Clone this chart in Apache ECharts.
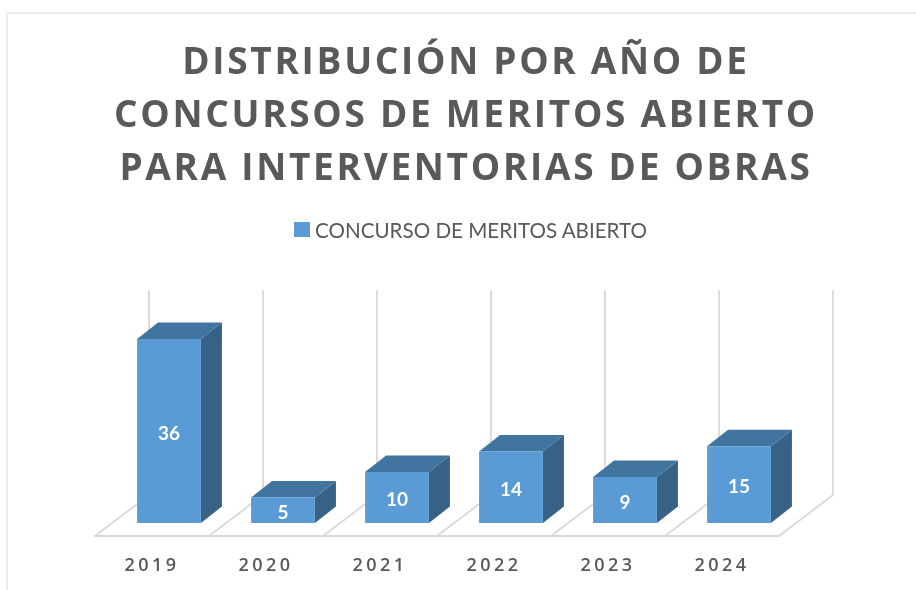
<!DOCTYPE html>
<html>
<head>
<meta charset="utf-8">
<style>
html,body{margin:0;padding:0;background:#fff;}
#chart{width:916px;height:590px;filter:blur(0.6px);}
</style>
<script src="https://cdn.jsdelivr.net/npm/echarts@6/dist/echarts.min.js"></script>
</head>
<body>
<div id="chart"></div>
<script>
const titleLines = ['DISTRIBUCIÓN POR AÑO DE','CONCURSOS DE MERITOS ABIERTO','PARA INTERVENTORIAS DE OBRAS'];
const seriesName = 'CONCURSO DE MERITOS ABIERTO';
const categories = ['2019','2020','2021','2022','2023','2024'];
const values = [36,5,10,14,9,15];
const axisMax = 40;

const floorDepth = [54,-41];
const barOffset = [17,-13];
const barDepth = [21,-16.5];
const barWidthRatio = 0.56;
const FRONT='#5B9BD5', TOP='#4274A0', SIDE='#376285', WALL='#D9D9D9';

const chart = echarts.init(document.getElementById('chart'),null,{renderer:'svg',width:916,height:590});

function wallItem(params,api){
  const i = api.value(0);
  const c0 = api.coord([i,0]);
  const cTop = api.coord([i,axisMax]);
  const bw = api.size([1,0])[0];
  const lines = [c0[0]-bw/2];
  if(i===categories.length-1) lines.push(c0[0]+bw/2);
  return {type:'group',children:lines.map(x=>({
    type:'polyline',
    shape:{points:[[x,c0[1]],[x+floorDepth[0],c0[1]+floorDepth[1]],[x+floorDepth[0],cTop[1]+floorDepth[1]]]},
    style:{stroke:WALL,lineWidth:1.8,fill:null}
  }))};
}

function barItem(params,api){
  const i = api.value(0), v = api.value(1);
  const base = api.coord([i,0]);
  const top = api.coord([i,v]);
  const w = api.size([1,0])[0]*barWidthRatio;
  const x0 = base[0]+barOffset[0]-w/2, x1 = x0+w;
  const yb = base[1]+barOffset[1], yt = top[1]+barOffset[1];
  const dx = barDepth[0], dy = barDepth[1];
  return {type:'group',children:[
    {type:'polygon',shape:{points:[[x1,yb],[x1+dx,yb+dy],[x1+dx,yt+dy],[x1,yt]]},style:{fill:SIDE}},
    {type:'polygon',shape:{points:[[x0,yt],[x1,yt],[x1+dx,yt+dy],[x0+dx,yt+dy]]},style:{fill:TOP}},
    {type:'rect',shape:{x:x0,y:yt,width:w,height:yb-yt},style:{fill:FRONT}},
    {type:'text',style:{text:String(v),x:(x0+x1)/2,y:(yt+yb)/2+1,align:'center',verticalAlign:'middle',
      fill:'#FFFFFF',font:'bold 19px Lato'}}
  ]};
}

chart.setOption({
  animation:false,
  backgroundColor:'#fff',
  title:{
    text:titleLines.join('\n'),
    left:461,top:28,textAlign:'center',
    textStyle:{fontFamily:'Open Sans',fontWeight:'bold',fontSize:37,lineHeight:53,color:'#595959'}
  },
  legend:{
    left:289,top:214,itemWidth:16,itemHeight:15,
    data:[{name:seriesName,icon:'rect'}],
    textStyle:{fontFamily:'Lato',fontSize:20.6,color:'#595959'}
  },
  grid:{left:95,width:684,top:331.6,height:204.4},
  xAxis:{
    type:'category',data:categories,
    axisLine:{show:true,lineStyle:{color:WALL,width:1.8}},
    axisTick:{show:false},splitLine:{show:false},
    axisLabel:{margin:19,fontFamily:'Open Sans',fontWeight:600,fontSize:18,color:'#595959'}
  },
  yAxis:{type:'value',min:0,max:axisMax,interval:10,show:false,splitLine:{show:false}},
  graphic:[
    {type:'polyline',silent:true,z:-1,shape:{points:[[7,590],[7,13],[916,13]]},style:{stroke:'#EBEBEB',lineWidth:1.8,fill:null}}
  ],
  series:[
    {type:'custom',name:'wall',silent:true,z:1,renderItem:wallItem,clip:false,
     encode:{x:0,y:1},data:categories.map((c,i)=>[i,axisMax])},
    {type:'custom',name:seriesName,z:2,renderItem:barItem,clip:false,
     itemStyle:{color:FRONT},encode:{x:0,y:1},data:values.map((v,i)=>[i,v])}
  ]
});

// Spaced-out lettering of the title and the year labels (SVG text accepts CSS letter-spacing)
document.querySelectorAll('#chart svg text').forEach(t=>{
  const s = t.textContent;
  if(titleLines.includes(s)) t.style.letterSpacing='2.7px';
  else if(categories.includes(s)) t.style.letterSpacing='3.4px';
});
</script>
</body>
</html>
